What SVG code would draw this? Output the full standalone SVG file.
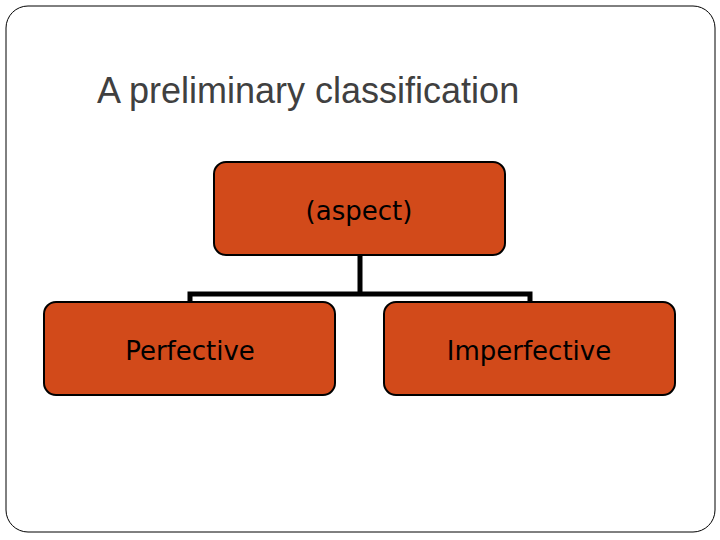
<svg xmlns="http://www.w3.org/2000/svg" width="720" height="540" viewBox="0 0 720 540">
<style>
.node{fill:#d24a1a;stroke:#000;stroke-width:2}
.lbl{font-family:"DejaVu Sans",sans-serif;font-size:26px;fill:#000;text-anchor:middle}
.conn{fill:none;stroke:#000;stroke-width:5}
</style>
<rect x="6" y="6" width="709" height="526" rx="22" fill="#fff" stroke="#000" stroke-width="1"/>
<text x="97" y="103" font-family="Liberation Sans, Arial, sans-serif" font-size="36" fill="#404040">A preliminary classification</text>
<g id="connectors">
<path class="conn" d="M360 255V294M190 302V294H530V302"/>
</g>
<g id="aspect"><rect class="node" x="214" y="162" width="291" height="93" rx="12"/><text class="lbl" x="359" y="220">(aspect)</text></g>
<g id="perfective"><rect class="node" x="44" y="302" width="291" height="93" rx="12"/><text class="lbl" x="190" y="360">Perfective</text></g>
<g id="imperfective"><rect class="node" x="384" y="302" width="291" height="93" rx="12"/><text class="lbl" x="529" y="360">Imperfective</text></g>
</svg>
